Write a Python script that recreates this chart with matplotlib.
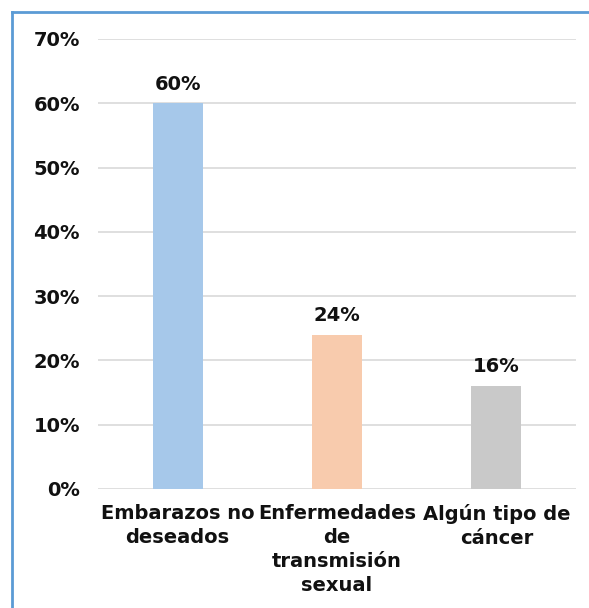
import matplotlib
matplotlib.use("Agg")
import matplotlib.pyplot as plt
from matplotlib.lines import Line2D

# Data
categories = ["Embarazos no\ndeseados",
              "Enfermedades\nde\ntransmisión\nsexual",
              "Algún tipo de\ncáncer"]
values = [60, 24, 16]
colors = ["#A6C8EA", "#F8CBAD", "#C9C9C9"]
yticks = [0, 10, 20, 30, 40, 50, 60, 70]

plt.rcParams['font.family'] = ['DejaVu Sans']

fig = plt.figure(figsize=(5.89, 6.08), dpi=100)
ax = fig.add_axes([98 / 589, 1 - 489 / 608, 478 / 589, 450 / 608])

x = range(len(categories))
ax.bar(x, values, width=0.314, color=colors, zorder=3)

for xi, v in zip(x, values):
    ax.annotate(f"{v}%", (xi, v), xytext=(0, 7), textcoords="offset points",
                ha="center", va="bottom", fontsize=14, fontweight="bold",
                color="#111111")

ax.set_xlim(-0.5, 2.5)
ax.set_ylim(0, 70)
ax.set_yticks(yticks)
ax.set_yticklabels([f"{t}%" for t in yticks], fontsize=14, fontweight="bold")
ax.set_xticks(list(x))
ax.set_xticklabels(categories, fontsize=14, fontweight="bold",
                   linespacing=1.32)
ax.tick_params(axis="both", length=0, colors="#111111")
ax.tick_params(axis="y", pad=13)
ax.tick_params(axis="x", pad=11)
ax.grid(axis="y", color="#D9D9D9", linewidth=1.2, zorder=0)
for s in ax.spines.values():
    s.set_visible(False)

# blue frame (left and top edges)
fig.add_artist(Line2D([12 / 589, 12 / 589], [0, 1 - 12 / 608],
                      transform=fig.transFigure, color="#5B9BD5", linewidth=2))
fig.add_artist(Line2D([12 / 589, 1], [1 - 12 / 608, 1 - 12 / 608],
                      transform=fig.transFigure, color="#5B9BD5", linewidth=2))

plt.savefig("out.png", dpi=100)
